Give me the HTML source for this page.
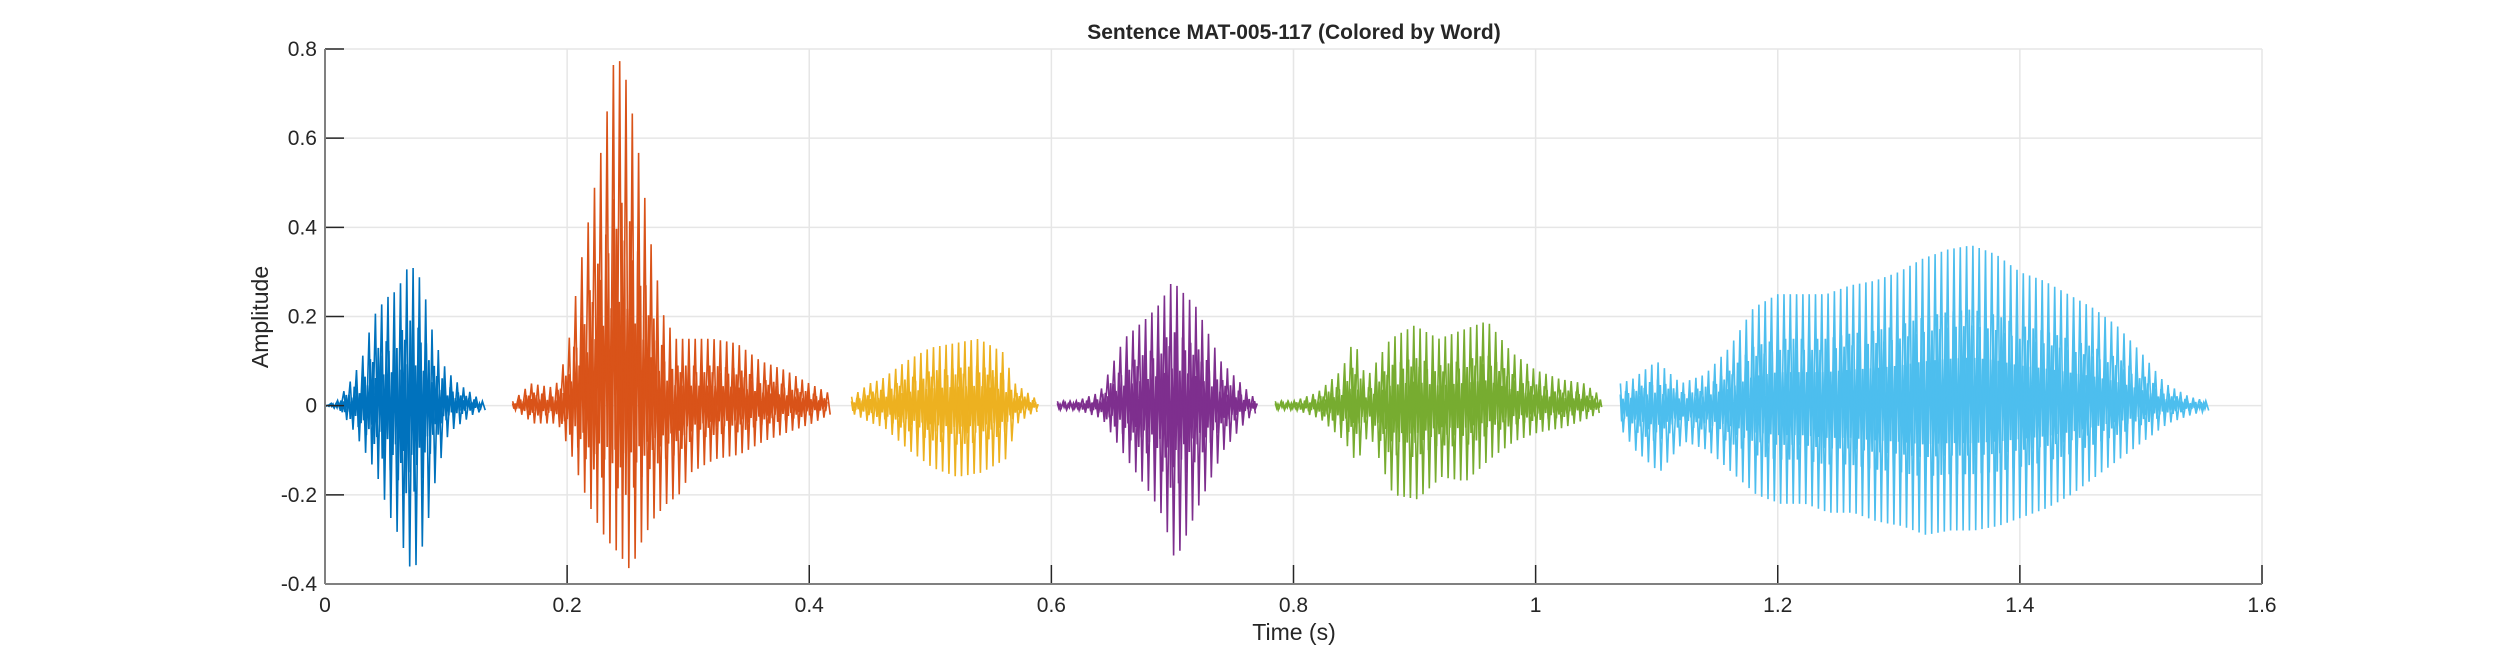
<!DOCTYPE html>
<html><head><meta charset="utf-8"><style>
html,body{margin:0;padding:0;background:#fff;}
svg text{font-family:"Liberation Sans",Arial,sans-serif;fill:#262626;}
</style></head><body>
<svg id="chart" width="2500" height="657" viewBox="0 0 2500 657" xmlns="http://www.w3.org/2000/svg">
<rect width="2500" height="657" fill="#fff"/>
<g id="grid"></g>
<g id="waves"></g>
<g id="axes"></g>
<text x="1294" y="39" text-anchor="middle" font-size="21" font-weight="bold">Sentence MAT-005-117 (Colored by Word)</text>
<text x="1294" y="640" text-anchor="middle" font-size="23">Time (s)</text>
<text x="0" y="0" transform="translate(268,317) rotate(-90)" text-anchor="middle" font-size="23">Amplitude</text>
</svg>
<script>
const xTicks=[0,0.2,0.4,0.6,0.8,1,1.2,1.4,1.6];
const xTickLabels=["0","0.2","0.4","0.6","0.8","1","1.2","1.4","1.6"];
const yTicks=[-0.4,-0.2,0,0.2,0.4,0.6,0.8];
const yTickLabels=["-0.4","-0.2","0","0.2","0.4","0.6","0.8"];
const wordColors=["#0072BD","#D95319","#EDB120","#7E2F8E","#77AC30","#4DBEEE"];
const wordTimes=[
[0.0,0.01,0.02,0.03,0.04,0.05,0.06,0.07,0.08,0.09,0.1,0.11,0.12,0.13],
[0.155,0.17,0.19,0.2,0.21,0.22,0.23,0.24,0.25,0.26,0.27,0.28,0.29,0.3,0.32,0.34,0.36,0.38,0.4,0.415],
[0.435,0.45,0.46,0.48,0.5,0.52,0.54,0.56,0.57,0.58,0.59],
[0.605,0.62,0.64,0.66,0.68,0.69,0.7,0.72,0.74,0.76,0.77],
[0.785,0.8,0.82,0.84,0.85,0.86,0.88,0.9,0.92,0.94,0.96,0.98,1.0,1.02,1.04,1.055],
[1.07,1.08,1.1,1.12,1.14,1.16,1.18,1.2,1.22,1.24,1.26,1.28,1.3,1.32,1.34,1.36,1.38,1.4,1.42,1.44,1.46,1.48,1.5,1.52,1.54,1.555]];
const wordUpper=[
[0,0.01,0.05,0.1,0.2,0.24,0.26,0.32,0.28,0.15,0.08,0.05,0.03,0.01],
[0.01,0.05,0.04,0.12,0.3,0.45,0.6,0.8,0.72,0.55,0.35,0.2,0.15,0.15,0.15,0.14,0.1,0.08,0.05,0.03],
[0.02,0.05,0.06,0.1,0.13,0.14,0.15,0.12,0.05,0.03,0.01],
[0.01,0.01,0.03,0.15,0.2,0.23,0.28,0.22,0.1,0.04,0.01],
[0.01,0.01,0.03,0.08,0.15,0.06,0.15,0.18,0.15,0.17,0.19,0.12,0.08,0.06,0.05,0.02],
[0.05,0.06,0.1,0.05,0.07,0.13,0.22,0.25,0.25,0.25,0.27,0.28,0.3,0.33,0.35,0.36,0.34,0.3,0.28,0.25,0.22,0.18,0.12,0.05,0.02,0.01]];
const wordLower=[
[0,-0.01,-0.05,-0.1,-0.15,-0.24,-0.3,-0.38,-0.3,-0.15,-0.06,-0.04,-0.02,-0.01],
[-0.01,-0.04,-0.04,-0.1,-0.18,-0.25,-0.3,-0.33,-0.37,-0.3,-0.25,-0.22,-0.2,-0.15,-0.12,-0.11,-0.08,-0.06,-0.04,-0.02],
[-0.02,-0.04,-0.05,-0.1,-0.14,-0.16,-0.15,-0.12,-0.04,-0.02,-0.01],
[-0.01,-0.01,-0.03,-0.12,-0.2,-0.25,-0.35,-0.22,-0.1,-0.03,-0.01],
[-0.01,-0.01,-0.03,-0.08,-0.13,-0.06,-0.2,-0.21,-0.16,-0.17,-0.12,-0.08,-0.06,-0.05,-0.03,-0.01],
[-0.06,-0.1,-0.15,-0.08,-0.1,-0.15,-0.2,-0.22,-0.22,-0.24,-0.24,-0.26,-0.27,-0.29,-0.28,-0.28,-0.27,-0.25,-0.23,-0.2,-0.16,-0.12,-0.08,-0.04,-0.02,-0.01]];

const L=325,R=2262,T=49,B=584;
const xS=v=>L+(v-0)/(1.6-0)*(R-L);
const yS=v=>B-(v+0.4)/(1.2)*(B-T);
const NS="http://www.w3.org/2000/svg";
function mk(tag,attrs,parent){const e=document.createElementNS(NS,tag);for(const k in attrs)e.setAttribute(k,attrs[k]);parent.appendChild(e);return e;}
const grid=document.getElementById('grid'),axes=document.getElementById('axes'),waves=document.getElementById('waves');
xTicks.forEach((v,i)=>{
  const g=mk('line',{x1:xS(v),x2:xS(v),y1:T,y2:B,stroke:'#e6e6e6','stroke-width':1.5},grid);
  
  
  const t=mk('line',{x1:xS(v),x2:xS(v),y1:B,y2:B-19,stroke:'#262626','stroke-width':1.5},axes);
  
  
  const tx=mk('text',{x:xS(v),y:B+28,'text-anchor':'middle','font-size':21},axes);
  tx.textContent=xTickLabels[i];
  
  
});
yTicks.forEach((v,i)=>{
  const g=mk('line',{x1:L,x2:R,y1:yS(v),y2:yS(v),stroke:'#e6e6e6','stroke-width':1.5},grid);
  
  
  const t=mk('line',{x1:L,x2:L+19,y1:yS(v),y2:yS(v),stroke:'#262626','stroke-width':1.5},axes);
  
  
  const tx=mk('text',{x:L-8,y:yS(v)+7,'text-anchor':'end','font-size':21},axes);
  tx.textContent=yTickLabels[i];
  
  
});
const ax1=mk('line',{x1:L,x2:L,y1:T,y2:B,stroke:'#808080','stroke-width':2},axes);


const ax2=mk('line',{x1:L,x2:R,y1:B,y2:B,stroke:'#808080','stroke-width':2},axes);



function interp(ts,vs,t){
  if(t<=ts[0])return vs[0];
  for(let i=1;i<ts.length;i++){if(t<=ts[i]){const f=(t-ts[i-1])/(ts[i]-ts[i-1]);return vs[i-1]+f*(vs[i]-vs[i-1]);}}
  return vs[vs.length-1];
}
wordTimes.forEach((ts,w)=>{
  const t0=ts[0],t1=ts[ts.length-1];
  const g=mk('g',{},waves);
  
  
  const step=0.0011;
  let pts=[];
  let k=0;
  const pat=[0.5,-0.55,0.3,-0.4,0.6,-0.3];
  for(let t=t0;t<=t1;t+=step,k++){
    const u=interp(ts,wordUpper[w],t),l=interp(ts,wordLower[w],t);
    const m=pat[k%pat.length];
    const v=m>0?u*m:-l*m;
    pts.push(xS(t).toFixed(1)+','+yS(v).toFixed(1));
  }
  const core=mk('polyline',{points:pts.join(' '),fill:'none',stroke:wordColors[w],'stroke-width':1.8},g);
  
  
  const period=0.0052;
  let sp=[];
  for(let t=t0;t<=t1;t+=period){
    const u=interp(ts,wordUpper[w],t),l=interp(ts,wordLower[w],t);
    sp.push(xS(t).toFixed(1)+','+yS(u).toFixed(1));
    sp.push(xS(t+period*0.45).toFixed(1)+','+yS(l).toFixed(1));
  }
  const spk=mk('polyline',{points:sp.join(' '),fill:'none',stroke:wordColors[w],'stroke-width':1.6},g);
  
  
});
</script>
</body></html>
